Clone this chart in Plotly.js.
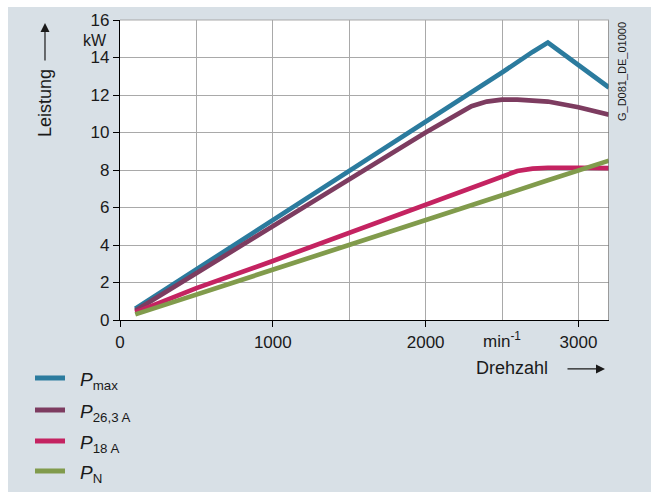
<!DOCTYPE html>
<html>
<head>
<meta charset="utf-8">
<script src="https://cdn.plot.ly/plotly-3.0.1.min.js"></script>
<style>
  html, body { margin: 0; padding: 0; background: #ffffff; }
  #chart { position: absolute; left: 8px; top: 7px; width: 643px; height: 485px; }
</style>
</head>
<body>
<div id="chart"></div>
<script>
// Drehzahl (min^-1)
const speedMax = [100, 1000, 2000, 2500, 2700, 2800, 3200];
const powerMax = [0.6, 5.3, 10.55, 13.2, 14.3, 14.8, 12.4];

const speed263 = [100, 1000, 1500, 2000, 2300, 2400, 2500, 2600, 2800, 3000, 3200];
const power263 = [0.5, 5.0, 7.5, 10.0, 11.4, 11.65, 11.75, 11.75, 11.65, 11.35, 10.95];

const speed18 = [100, 500, 1000, 1500, 2000, 2300, 2500, 2600, 2700, 2800, 3000, 3200];
const power18 = [0.4, 1.7, 3.15, 4.65, 6.2, 7.1, 7.7, 7.95, 8.07, 8.12, 8.12, 8.1];

const speedN = [100, 500, 1000, 1500, 2000, 2500, 2800, 3000, 3200];
const powerN = [0.3, 1.35, 2.65, 4.0, 5.3, 6.65, 7.45, 7.95, 8.5];

const seriesNames = ['<i>P</i><sub>max</sub>', '<i>P</i><sub>26,3 A</sub>', '<i>P</i><sub>18 A</sub>', '<i>P</i><sub>N</sub>'];
const seriesColors = ['#2b7b9e', '#7d3c60', '#c42361', '#819b4c'];

const xTickVals = [0, 1000, 2000, 3000];
const xTickText = ['0', '1000', '2000', '3000'];
const yTickVals = [0, 2, 4, 6, 8, 10, 12, 14, 16];
const yTickText = ['0', '2', '4', '6', '8', '10', '12', '14', '16'];

const xs = [speedMax, speed263, speed18, speedN];
const ys = [powerMax, power263, power18, powerN];

const traces = xs.map((x, i) => ({
  x: x, y: ys[i], type: 'scatter', mode: 'lines',
  name: seriesNames[i],
  line: { color: seriesColors[i], width: 4.7 },
  hoverinfo: 'skip'
}));

const FONT = 'Liberation Sans, Arial, sans-serif';
const TXT = '#1a1a1a';
const FS = 17;
const gridColor = '#a9a9a9';

// legend (drawn in paper coordinates below the plot)
const legendY = [-0.1933, -0.30, -0.4033, -0.5033];
const legendShapes = legendY.map((y, i) => ({
  type: 'line', xref: 'paper', yref: 'paper', x0: -0.1738, x1: -0.1125, y0: y, y1: y,
  line: { color: seriesColors[i], width: 5 }
}));
const legendLabels = legendY.map((y, i) => ({
  xref: 'paper', yref: 'paper', x: -0.0858, y: y, yshift: -3, text: seriesNames[i],
  showarrow: false, xanchor: 'left', yanchor: 'middle',
  font: { family: FONT, size: 19, color: TXT }
}));

const layout = {
  width: 643, height: 485,
  margin: { l: 112, r: 42, t: 13, b: 172 },
  paper_bgcolor: '#d8e0e6',
  plot_bgcolor: '#ffffff',
  font: { family: FONT, size: FS, color: TXT },
  showlegend: false,
  xaxis: {
    range: [0, 3200], tickvals: xTickVals, ticktext: xTickText,
    showgrid: true, gridcolor: gridColor, gridwidth: 1,
    minor: { dtick: 500, tick0: 0, showgrid: true, gridcolor: gridColor, gridwidth: 1, ticks: '' },
    showline: true, linecolor: '#000000', linewidth: 1.2,
    ticks: 'outside', ticklen: 6, tickcolor: '#000000',
    zeroline: false, fixedrange: true, automargin: false,
    tickfont: { family: FONT, size: FS, color: TXT }
  },
  yaxis: {
    range: [0, 16], tickvals: yTickVals, ticktext: yTickText,
    showgrid: true, gridcolor: gridColor, gridwidth: 1,
    showline: true, linecolor: '#000000', linewidth: 1.2,
    ticks: 'outside', ticklen: 6, tickcolor: '#000000',
    zeroline: false, fixedrange: true, automargin: false,
    tickfont: { family: FONT, size: FS, color: TXT }
  },
  shapes: [
    { type: 'line', xref: 'x', yref: 'paper', x0: 3200, x1: 3200, y0: 0, y1: 1,
      line: { color: '#7a7a7a', width: 1.5 } },
    { type: 'line', xref: 'paper', yref: 'paper', x0: 0, x1: 1, y0: 1, y1: 1,
      line: { color: gridColor, width: 1 } }
  ].concat(legendShapes),
  annotations: [
    { xref: 'paper', yref: 'paper', x: -0.1534, y: 0.7233, text: 'Leistung',
      textangle: -90, showarrow: false, xanchor: 'center', yanchor: 'middle',
      font: { family: FONT, size: 18, color: TXT } },
    { xref: 'paper', yref: 'paper', x: -0.1534, y: 0.99, ax: 0, ay: 39, text: '',
      showarrow: true, arrowhead: 2, arrowsize: 1.5, arrowwidth: 1.2, arrowcolor: TXT },
    { xref: 'paper', yref: 'paper', x: -0.022, y: 0.93, text: 'kW',
      showarrow: false, xanchor: 'right', yanchor: 'middle',
      font: { family: FONT, size: 16, color: TXT } },
    { xref: 'x', yref: 'paper', x: 2500, y: 0, yshift: -7, text: 'min<sup>-1</sup>',
      showarrow: false, xanchor: 'center', yanchor: 'top',
      font: { family: FONT, size: FS, color: TXT } },
    { xref: 'paper', yref: 'paper', x: 0.8016, y: -0.16, text: 'Drehzahl',
      showarrow: false, xanchor: 'center', yanchor: 'middle',
      font: { family: FONT, size: 18, color: TXT } },
    { xref: 'paper', yref: 'paper', x: 0.9918, y: -0.163, ax: -39, ay: 0, text: '',
      showarrow: true, arrowhead: 2, arrowsize: 1.5, arrowwidth: 1.2, arrowcolor: TXT },
    { xref: 'paper', yref: 'paper', x: 1.0266, y: 0.8267, text: 'G_D081_DE_01000',
      textangle: -90, showarrow: false, xanchor: 'center', yanchor: 'middle',
      font: { family: FONT, size: 11, color: TXT } }
  ].concat(legendLabels)
};

Plotly.newPlot('chart', traces, layout, { displayModeBar: false, staticPlot: true });
</script>
</body>
</html>
